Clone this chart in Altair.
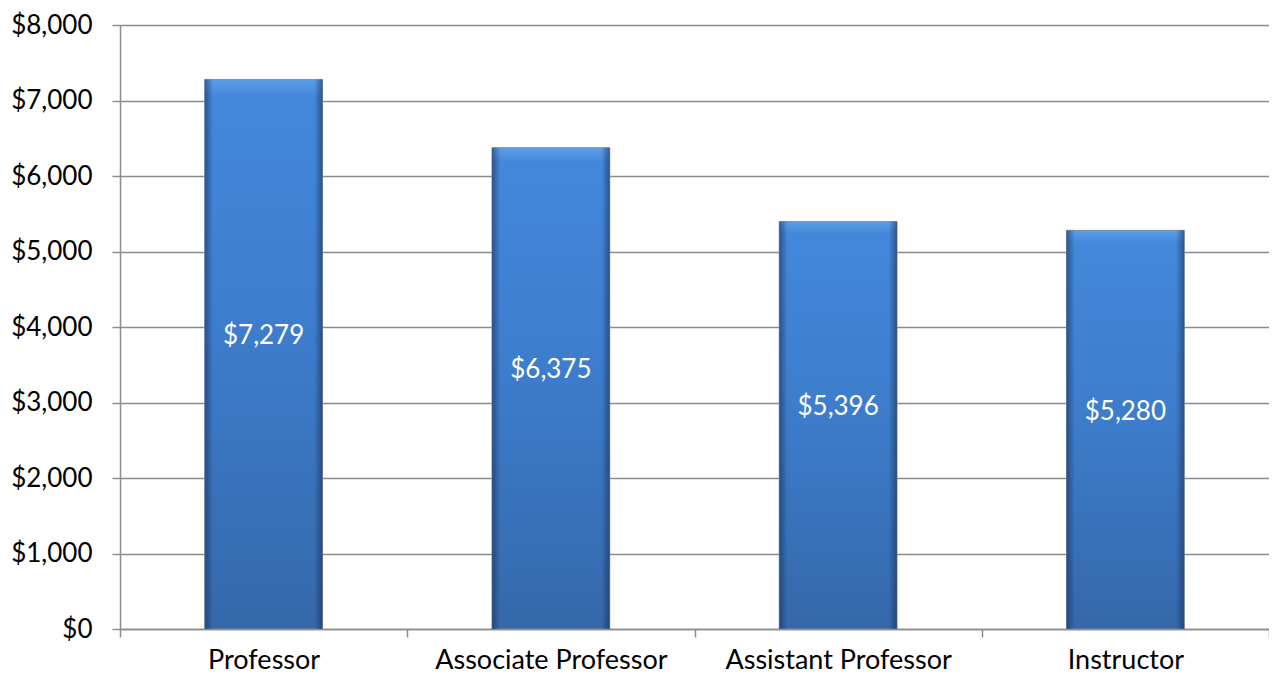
import altair as alt
import pandas as pd

categories = ["Professor", "Associate Professor", "Assistant Professor", "Instructor"]
values = [7279, 6375, 5396, 5280]
y_ticks = [0, 1000, 2000, 3000, 4000, 5000, 6000, 7000, 8000]

df = pd.DataFrame({"rank": categories, "amount": values})

FONT = "Lato"
GRID = "#8c8c8c"

x_enc = alt.X(
    "rank:N",
    sort=categories,
    title=None,
    scale=alt.Scale(paddingInner=0, paddingOuter=0),
    axis=alt.Axis(
        labelAngle=0, labelFontSize=27, labelFont=FONT, labelColor="#000000",
        labelPadding=10, labelLimit=0, tickBand="extent", tickSize=8,
        tickColor=GRID, tickWidth=1.5, domainColor=GRID, domainWidth=1.5,
        grid=False,
    ),
)
y_enc = alt.Y(
    "amount:Q",
    title=None,
    scale=alt.Scale(domain=[0, 8000], nice=False),
    axis=alt.Axis(
        values=y_ticks, format="$,.0f", labelFontSize=26, labelFont=FONT,
        labelColor="#000000", labelPadding=20, tickSize=8, tickColor=GRID,
        tickWidth=1.5, domainColor=GRID, domainWidth=1.5, gridColor=GRID,
        gridWidth=1.5,
    ),
)

vgrad = alt.Gradient(
    gradient="linear",
    stops=[
        alt.GradientStop(color="#5c9ee8", offset=0),
        alt.GradientStop(color="#4388da", offset=0.03),
        alt.GradientStop(color="#3d7dcc", offset=0.45),
        alt.GradientStop(color="#3568aa", offset=1),
    ],
    x1=0, x2=0, y1=0, y2=1,
)
hgrad = alt.Gradient(
    gradient="linear",
    stops=[
        alt.GradientStop(color="rgba(20,40,80,0.55)", offset=0),
        alt.GradientStop(color="rgba(20,40,80,0)", offset=0.07),
        alt.GradientStop(color="rgba(20,40,80,0)", offset=0.93),
        alt.GradientStop(color="rgba(20,40,80,0.55)", offset=1),
    ],
    x1=0, x2=1, y1=0, y2=0,
)

BAR_W = alt.RelativeBandSize(0.41)
base = alt.Chart(df)
bars = base.mark_bar(color=vgrad, stroke="#7f8fa6", strokeWidth=1, width=BAR_W).encode(x=x_enc, y=y_enc)
edges = base.mark_bar(color=hgrad, width=BAR_W).encode(x=alt.X("rank:N", sort=categories), y="amount:Q")
labels = base.transform_calculate(mid="datum.amount / 2").mark_text(
    color="white", fontSize=26, font=FONT, dy=-18, baseline="middle", align="center"
).encode(
    x=alt.X("rank:N", sort=categories),
    y="mid:Q",
    text=alt.Text("amount:Q", format="$,.0f"),
)

chart = alt.layer(bars, edges, labels).properties(
    width=1149,
    height=604,
    autosize=alt.AutoSizeParams(type="none"),
    padding={"left": 112, "top": 17, "right": 0, "bottom": 46},
).configure_view(stroke=None).configure(background="white")

chart.save("out.html", embed_options={"renderer": "svg", "actions": False})
